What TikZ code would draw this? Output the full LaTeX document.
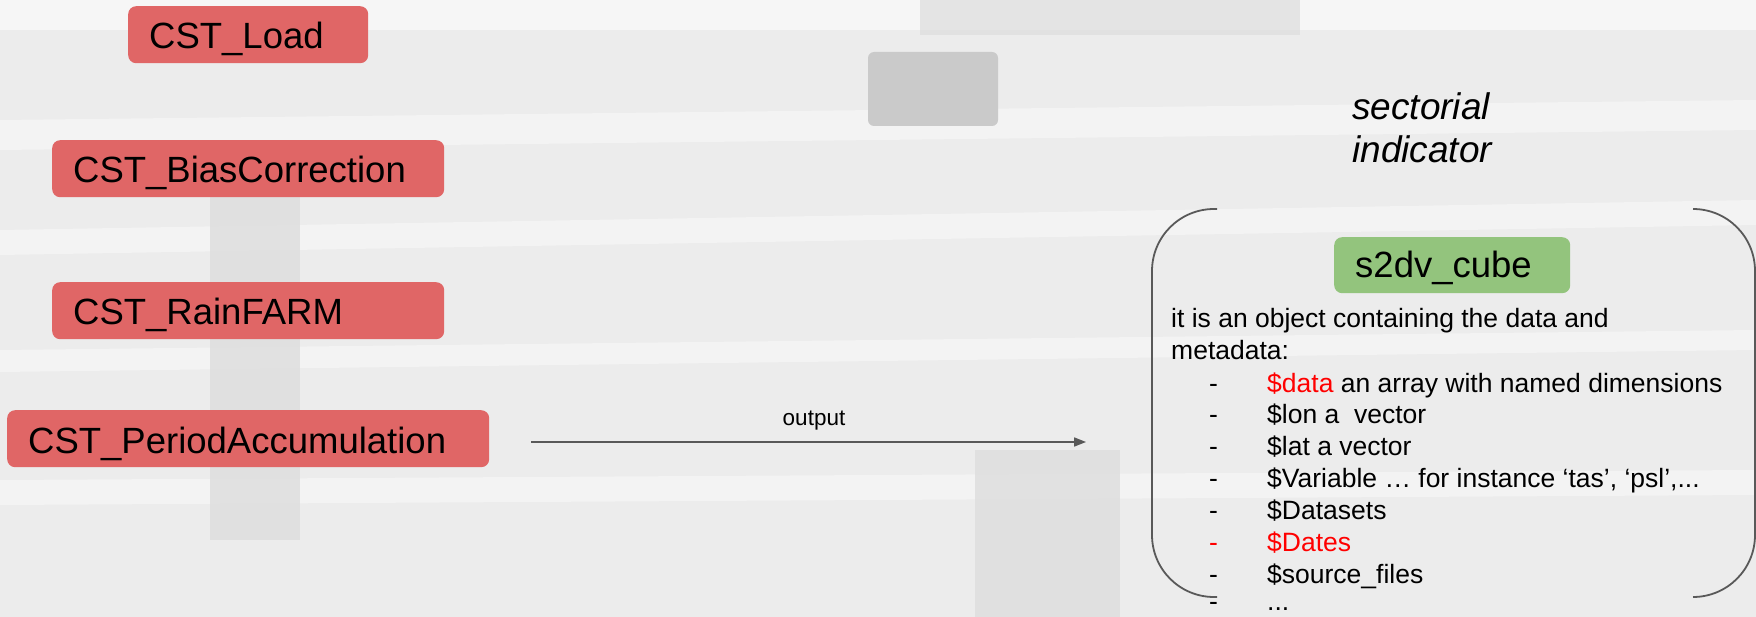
\documentclass[tikz,border=0pt]{standalone}
\usepackage{fontspec}
\setmainfont{Liberation Sans}
\usetikzlibrary{arrows.meta,calc}
\definecolor{boxred}{HTML}{E06666}
\definecolor{boxgreen}{HTML}{93C47D}
\definecolor{linegray}{HTML}{595959}
\definecolor{txtred}{HTML}{FF0000}
\definecolor{bgbase}{HTML}{ECECEC}
\definecolor{bgdark}{HTML}{CACACA}
\definecolor{bgmid}{HTML}{DDDDDD}
\begin{document}
\begin{tikzpicture}[x=1pt,y=-1pt,
  fnbox/.style={fill=boxred, rounded corners=8pt, inner sep=0pt, anchor=north west},
  cubebox/.style={fill=boxgreen, rounded corners=8pt, inner sep=0pt, anchor=north west},
  boxtext/.style={anchor=base west, inner sep=0pt, font=\fontsize{36.5}{44}\selectfont},
  bodytext/.style={anchor=base west, inner sep=0pt, font=\fontsize{26.5}{32}\selectfont},
  titletext/.style={anchor=base west, inner sep=0pt, font=\fontsize{37}{44}\selectfont\itshape},
  labeltext/.style={anchor=base, inner sep=0pt, font=\fontsize{22.5}{27}\selectfont},
  bracket/.style={draw=linegray, line width=1.8pt, rounded corners=62pt},
  flow/.style={draw=linegray, line width=1.7pt, -{Triangle[length=12pt,width=9pt]}}
]
\useasboundingbox (0,0) rectangle (1756,617);
% background (light photographic texture, simplified)
\fill[bgbase] (0,0) rectangle (1756,617);
\fill[white, opacity=0.55] (0,0) rectangle (1756,30);
\fill[white, opacity=0.4] (0,120) -- (1756,100) -- (1756,130) -- (0,150) -- cycle;
\fill[white, opacity=0.4] (0,230) -- (1756,200) -- (1756,225) -- (0,255) -- cycle;
\fill[white, opacity=0.4] (0,350) -- (1756,330) -- (1756,350) -- (0,372) -- cycle;
\fill[white, opacity=0.4] (0,480) -- (1756,470) -- (1756,495) -- (0,505) -- cycle;
\fill[bgmid, opacity=0.7] (920,0) rectangle (1300,35);
\fill[bgdark, rounded corners=6pt] (868,52) rectangle (998,126);
\fill[bgmid, opacity=0.8] (210,190) rectangle (300,540);
\fill[bgmid, opacity=0.8] (975,450) rectangle (1120,617);

% function boxes
\node[fnbox, minimum width=240pt, minimum height=57pt] (load) at (128,6) {};
\node[boxtext] (loadt) at ($(load.north west)+(21,43)$) {CST\_Load};
\node[fnbox, minimum width=392pt, minimum height=57pt] (bias) at (52,140) {};
\node[boxtext] (biast) at ($(bias.north west)+(21,43)$) {CST\_BiasCorrection};
\node[fnbox, minimum width=392pt, minimum height=57pt] (rain) at (52,282) {};
\node[boxtext] (raint) at ($(rain.north west)+(21,43)$) {CST\_RainFARM};
\node[fnbox, minimum width=482pt, minimum height=57pt] (period) at (7,410) {};
\node[boxtext] (periodt) at ($(period.north west)+(21,43)$) {CST\_PeriodAccumulation};

% output arrow
\coordinate (arrowstart) at (531,442);
\coordinate (arrowend) at (1086,442);
\draw[flow] (arrowstart) -- (arrowend);
\node[labeltext] (outlabel) at (814,425) {output};

% sectorial indicator
\node[titletext] (sect1) at (1352,120) {sectorial};
\node[titletext] (sect2) at (1352,163) {indicator};

% container bracket
\coordinate (tl) at (1217,209);
\coordinate (bl) at (1217,597);
\coordinate (tr) at (1694,209);
\coordinate (br) at (1694,597);
\draw[bracket] (tl) -- (1152,209) -- (1152,597) -- (bl);
\draw[bracket] (tr) -- (1755,209) -- (1755,597) -- (br);

% s2dv_cube
\node[cubebox, minimum width=236pt, minimum height=56pt] (cube) at (1334,237) {};
\node[boxtext] (cubet) at ($(cube.north west)+(21,41)$) {s2dv\_cube};

% description
\node[bodytext] (d1) at (1171,328) {it is an object containing the data and};
\node[bodytext] (d2) at (1171,360) {metadata:};
\node[bodytext] (h1) at (1209,392) {-};
\node[bodytext] (i1) at (1267,392) {\textcolor{txtred}{\$data} an array with named dimensions};
\node[bodytext] (h2) at (1209,423) {-};
\node[bodytext] (i2) at (1267,423) {\$lon a\ \ vector};
\node[bodytext] (h3) at (1209,455) {-};
\node[bodytext] (i3) at (1267,455) {\$lat a vector};
\node[bodytext] (h4) at (1209,487) {-};
\node[bodytext] (i4) at (1267,487) {\$Variable … for instance ‘tas’, ‘psl’,...};
\node[bodytext] (h5) at (1209,519) {-};
\node[bodytext] (i5) at (1267,519) {\$Datasets};
\node[bodytext, text=txtred] (h6) at (1209,551) {-};
\node[bodytext, text=txtred] (i6) at (1267,551) {\$Dates};
\node[bodytext] (h7) at (1209,583) {-};
\node[bodytext] (i7) at (1267,583) {\$source\_files};
\node[bodytext, text depth=0pt] (h8) at (1209,610) {-};
\node[bodytext, text depth=0pt] (i8) at (1267,610) {...};
\end{tikzpicture}
\end{document}
